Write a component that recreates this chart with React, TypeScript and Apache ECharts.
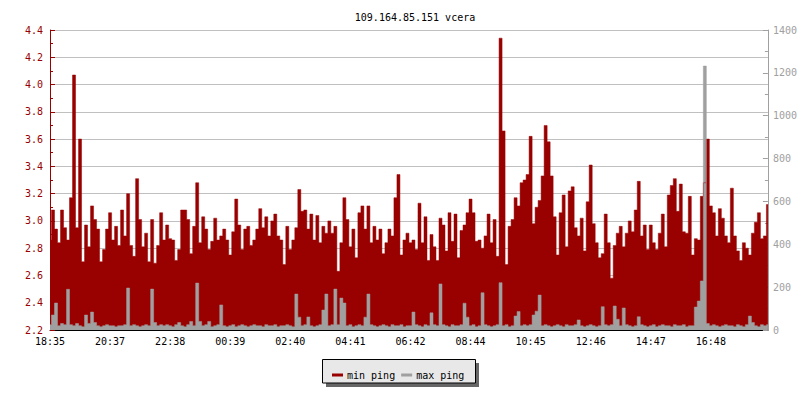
import React, { useEffect, useRef } from "react";
import * as echarts from "echarts";

const TITLE = "109.164.85.151 vcera";
const tickLabels = ["18:35", "20:37", "22:38", "00:39", "02:40", "04:41", "06:42", "08:44", "10:45", "12:46", "14:47", "16:48"];
const STEP = 20; // samples between time labels

// min ping (left axis, ms)
const minPing = [
  2.86, 3.08, 2.94, 2.84, 3.08, 2.95, 2.86, 3.17, 4.07, 2.95,
  3.6, 2.7, 2.97, 2.81, 3.11, 3.01, 2.94, 2.7, 2.79, 2.94,
  3.06, 2.86, 2.96, 2.82, 3.08, 2.89, 3.2, 2.82, 2.74, 3.31,
  3.01, 2.81, 2.91, 2.7, 3.01, 2.69, 2.82, 3.06, 2.86, 2.97,
  2.87, 2.86, 2.71, 2.79, 3.08, 3.08, 3.01, 2.76, 2.96, 3.28,
  2.84, 3.03, 2.94, 2.79, 2.85, 3.02, 2.86, 2.89, 2.94, 2.86,
  2.75, 2.92, 3.16, 2.97, 2.79, 2.94, 2.96, 2.82, 2.86, 2.94,
  3.09, 2.95, 3.03, 2.89, 3.0, 3.05, 2.89, 2.86, 2.68, 2.96,
  2.79, 2.86, 2.95, 3.23, 3.07, 3.08, 2.94, 3.05, 2.86, 3.04,
  2.84, 2.96, 2.91, 3.0, 2.91, 2.96, 2.63, 2.84, 3.17, 3.01,
  2.81, 2.94, 2.73, 3.06, 3.11, 2.94, 3.11, 2.84, 2.96, 2.86,
  2.94, 2.76, 2.84, 2.94, 2.89, 3.17, 3.34, 2.75, 2.86, 2.91,
  2.84, 2.86, 2.79, 3.13, 2.84, 3.03, 2.71, 2.9, 2.81, 2.71,
  3.02, 2.97, 2.78, 3.06, 2.85, 3.05, 2.73, 2.93, 2.97, 3.06,
  3.16, 3.06, 2.85, 2.86, 2.8, 2.89, 3.05, 2.84, 3.01, 2.74,
  4.34, 3.66, 2.68, 2.96, 3.01, 3.17, 3.11, 3.28, 3.3, 3.34,
  3.62, 2.98, 3.1, 3.15, 3.33, 3.7, 3.58, 3.33, 3.03, 2.75,
  3.06, 3.19, 2.81, 3.22, 3.25, 2.95, 2.89, 3.02, 2.78, 3.14,
  3.41, 2.98, 2.84, 2.73, 2.76, 3.05, 2.84, 2.58, 2.82, 2.91,
  2.96, 2.81, 2.91, 3.0, 2.92, 3.08, 3.29, 2.89, 2.97, 2.79,
  2.97, 2.84, 2.79, 2.91, 3.05, 2.81, 3.19, 3.26, 3.31, 3.07,
  3.27, 2.92, 2.91, 3.18, 2.75, 2.87, 2.86, 3.18, 3.28, 3.6,
  3.11, 3.06, 2.89, 3.09, 3.02, 2.89, 2.84, 3.24, 2.89, 2.78,
  2.71, 2.84, 2.8, 2.75, 2.91, 2.99, 3.06, 2.87, 2.89, 3.12,
];

// max ping (right axis, ms)
const maxPing = [
  25, 70, 126, 20, 30, 25, 190, 25, 20, 30,
  20, 15, 70, 30, 84, 35, 20, 15, 20, 25,
  20, 20, 15, 20, 20, 25, 196, 20, 25, 20,
  15, 20, 25, 20, 191, 35, 20, 25, 20, 25,
  20, 15, 25, 35, 20, 15, 25, 40, 20, 219,
  40, 20, 25, 40, 15, 20, 25, 117, 20, 15,
  20, 25, 15, 20, 25, 20, 15, 20, 25, 20,
  20, 15, 25, 20, 20, 25, 15, 20, 20, 25,
  20, 15, 168, 60, 20, 25, 61, 20, 15, 20,
  25, 93, 168, 20, 25, 191, 25, 149, 126, 20,
  25, 15, 20, 25, 20, 60, 168, 25, 20, 15,
  20, 25, 20, 15, 25, 20, 20, 25, 15, 20,
  20, 84, 25, 20, 15, 25, 20, 80, 25, 20,
  215, 25, 20, 15, 25, 20, 20, 25, 125, 60,
  20, 25, 15, 20, 174, 25, 20, 15, 20, 25,
  221, 20, 25, 15, 20, 65, 86, 20, 25, 20,
  25, 70, 88, 163, 20, 25, 20, 15, 20, 25,
  20, 15, 25, 20, 20, 25, 47, 20, 15, 20,
  25, 20, 15, 20, 109, 25, 20, 25, 112, 50,
  20, 103, 25, 20, 15, 20, 62, 25, 20, 15,
  20, 25, 15, 20, 25, 20, 20, 15, 25, 20,
  20, 25, 15, 20, 20, 107, 135, 229, 1232, 30,
  20, 25, 20, 15, 20, 25, 20, 20, 15, 25,
  20, 15, 25, 65, 35, 20, 15, 25, 20, 25,
];

const RED = "#990000";
const GRAY = "#a0a0a0";
const FONT = "DejaVu Sans Mono";

export default function App() {
  const ref = useRef<HTMLDivElement>(null);
  useEffect(() => {
    if (!ref.current) return;
    const chart = echarts.init(ref.current, null, { renderer: "svg" });
    const categories = minPing.map((_, i) => (i % STEP === 0 ? tickLabels[i / STEP] ?? "" : ""));
    const stepArea = (name: string, data: number[], color: string, yAxisIndex: number) => ({
      name,
      type: "line",
      yAxisIndex,
      data,
      step: "middle",
      symbol: "none",
      showSymbol: false,
      silent: true,
      itemStyle: { color },
      lineStyle: { color, width: 0.5 },
      areaStyle: { color, opacity: 1, origin: "start" },
    });
    chart.setOption({
      animation: false,
      backgroundColor: "#ffffff",
      textStyle: { fontFamily: FONT },
      title: {
        text: TITLE,
        left: 410,
        top: 7,
        textAlign: "center",
        textStyle: { fontFamily: FONT, fontSize: 10, fontWeight: "normal", color: "#000" },
      },
      graphic: [
        { type: "rect", z: 0, shape: { x: 326, y: 363, width: 153, height: 24 }, style: { fill: "#666666" } },
        { type: "rect", z: 1, shape: { x: 322.5, y: 359.5, width: 153, height: 23.5 }, style: { fill: "#e8e8e8", stroke: "#000", lineWidth: 1 } },
      ],
      legend: {
        z: 10,
        left: 327,
        top: 365,
        icon: "rect",
        itemWidth: 11,
        itemHeight: 3,
        itemGap: 6,
        data: [
          { name: "min ping", itemStyle: { color: RED } },
          { name: "max ping", itemStyle: { color: GRAY } },
        ],
        textStyle: { fontFamily: FONT, fontSize: 10, color: "#000", padding: [0, 0, 0, -1] },
      },
      grid: { left: 50, right: 30, top: 30, height: 300 },
      xAxis: {
        type: "category",
        data: categories,
        boundaryGap: false,
        axisLine: { lineStyle: { color: "#000", width: 1 } },
        axisTick: { show: true, inside: true, length: 4, lineStyle: { color: "#000" }, interval: (i: number) => i % STEP === 0 },
        axisLabel: { interval: (i: number) => i % STEP === 0, color: "#000", fontFamily: FONT, fontSize: 10, margin: 6 },
        splitLine: { show: false },
      },
      yAxis: [
        {
          type: "value",
          position: "left",
          min: 2.2,
          max: 4.4,
          interval: 0.2,
          axisLine: { show: true, lineStyle: { color: RED } },
          axisTick: { show: true, inside: true, length: 5, lineStyle: { color: RED } },
          minorTick: { show: true, splitNumber: 2, length: 3, lineStyle: { color: RED } },
          axisLabel: { color: RED, fontFamily: FONT, fontSize: 10, margin: 7, formatter: (v: number) => v.toFixed(1) },
          splitLine: { show: true, lineStyle: { color: "#c0c0c0", width: 1 } },
        },
        {
          type: "value",
          position: "right",
          min: 0,
          max: 1400,
          interval: 200,
          axisLine: { show: true, lineStyle: { color: GRAY } },
          axisTick: { show: true, inside: true, length: 5, lineStyle: { color: GRAY } },
          minorTick: { show: true, splitNumber: 2, length: 3, lineStyle: { color: GRAY } },
          axisLabel: { color: GRAY, fontFamily: FONT, fontSize: 10, margin: 5, formatter: (v: number) => String(v) },
          splitLine: { show: false },
        },
      ],
      series: [stepArea("min ping", minPing, RED, 0), stepArea("max ping", maxPing, GRAY, 1)],
    });
    return () => chart.dispose();
  }, []);
  return <div ref={ref} style={{ width: 800, height: 400, position: "absolute", left: 0, top: 0 }} />;
}
